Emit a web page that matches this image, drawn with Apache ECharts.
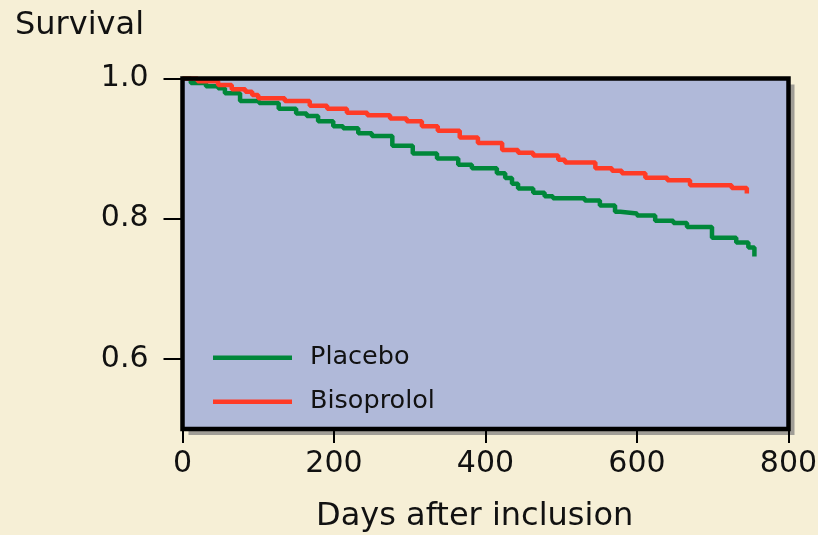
<!DOCTYPE html>
<html>
<head>
<meta charset="utf-8">
<script src="https://cdn.jsdelivr.net/npm/echarts@6/dist/echarts.min.js"></script>
<style>
  html, body { margin: 0; padding: 0; background: #F6EFD6; }
  #chart { width: 818px; height: 535px; }
</style>
</head>
<body>
<div id="chart"></div>
<script>
// ---- data ----
const seriesNames = ['Placebo', 'Bisoprolol'];
const xTicks = [0, 200, 400, 600, 800];
const yTicks = [0.6, 0.8, 1.0];

const placeboDays = [0, 11, 31, 47, 56, 76, 101, 127, 150, 164, 179, 199, 212, 232, 250, 277, 304, 336, 364, 382,
  415, 426, 435, 443, 463, 478, 489, 531, 551, 571, 578, 600, 624, 648, 666, 699, 731, 747, 755];
const placeboSurv = [1.0, 0.9936, 0.989, 0.986, 0.979, 0.968, 0.965, 0.957, 0.950, 0.9465, 0.939, 0.932, 0.929, 0.922, 0.918, 0.904, 0.893, 0.886, 0.877, 0.872,
  0.865, 0.858, 0.850, 0.843, 0.837, 0.832, 0.829, 0.826, 0.819, 0.810, 0.8075, 0.8045, 0.797, 0.794, 0.788, 0.773, 0.766, 0.759, 0.746];

const bisoDays = [0, 20, 47, 65, 83, 92, 100, 135, 168, 191, 217, 244, 274, 296, 316, 337, 366, 390,
  422, 443, 463, 496, 505, 545, 567, 580, 611, 640, 670, 725, 745];
const bisoSurv = [1.0, 0.996, 0.9907, 0.9846, 0.981, 0.9765, 0.9717, 0.968, 0.961, 0.957, 0.951, 0.9475, 0.943, 0.939, 0.932, 0.9255, 0.916, 0.908,
  0.898, 0.894, 0.890, 0.884, 0.880, 0.872, 0.8685, 0.865, 0.8585, 0.8548, 0.8477, 0.8438, 0.836];

// ---- layout / style ----
const G = { left: 182.5, top: 78.5, width: 606, height: 350.5 };
const FONT = 'DejaVu Sans';
const TXT = '#111111';
const GREEN = '#00873A';
const RED = '#FF3B26';

function zip(a, b) { return a.map((v, i) => [v, b[i]]); }

const chart = echarts.init(document.getElementById('chart'), null, { renderer: 'canvas' });
chart.setOption({
  backgroundColor: '#F6EFD6',
  animation: false,
  title: [
    { text: 'Survival', left: 15, top: 10, padding: 0,
      textStyle: { fontFamily: FONT, fontSize: 32, fontWeight: 'normal', color: TXT } },
    { text: 'Days after inclusion', left: 316, top: 501, padding: 0,
      textStyle: { fontFamily: FONT, fontSize: 32, fontWeight: 'normal', color: TXT } }
  ],
  grid: {
    left: G.left, top: G.top, width: G.width, height: G.height,
    show: true, backgroundColor: '#B0B9D9', borderWidth: 0,
    shadowColor: 'rgb(160,157,150)', shadowBlur: 0, shadowOffsetX: 6, shadowOffsetY: 6,
    containLabel: false, outerBoundsMode: 'none'
  },
  legend: {
    orient: 'vertical', left: 213, top: 342.7, padding: 0,
    data: seriesNames, icon: 'rect', itemWidth: 79, itemHeight: 4.5, itemGap: 14,
    textStyle: { fontFamily: FONT, fontSize: 25.5, color: TXT, lineHeight: 30, padding: [0, 0, 0, 13] }
  },
  xAxis: {
    type: 'value', min: xTicks[0], max: xTicks[xTicks.length - 1], interval: 200,
    axisLine: { show: false },
    axisTick: { show: true, length: 14, lineStyle: { color: '#000', width: 2 } },
    splitLine: { show: false },
    axisLabel: { margin: 20, fontFamily: FONT, fontSize: 30, color: TXT }
  },
  yAxis: {
    type: 'value', min: 0.5, max: 1.0,
    axisLine: { show: false },
    axisTick: { show: true, length: 19, customValues: yTicks, lineStyle: { color: '#000', width: 2 } },
    splitLine: { show: false },
    axisLabel: { margin: 34, fontFamily: FONT, fontSize: 30, color: TXT, customValues: yTicks,
      formatter: v => v.toFixed(1) }
  },
  series: [
    { name: seriesNames[0], type: 'line', step: 'end', showSymbol: false, symbol: 'none',
      color: GREEN, lineStyle: { width: 4.5, color: GREEN }, data: zip(placeboDays, placeboSurv) },
    { name: seriesNames[1], type: 'line', step: 'end', showSymbol: false, symbol: 'none',
      color: RED, lineStyle: { width: 4.5, color: RED }, data: zip(bisoDays, bisoSurv) }
  ],
  graphic: [
    { type: 'rect', z: 100, silent: true,
      shape: { x: G.left, y: G.top, width: G.width, height: G.height },
      style: { fill: 'none', stroke: '#000', lineWidth: 4.5 } }
  ]
});
</script>
</body>
</html>
